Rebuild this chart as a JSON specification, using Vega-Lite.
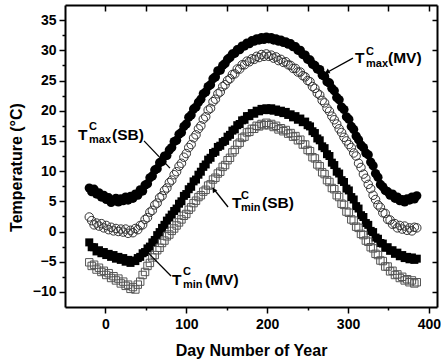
{
  "$schema": "https://vega.github.io/schema/vega-lite/v6.json",
  "width": 372,
  "height": 302,
  "autosize": "none",
  "padding": {"left": 65, "top": 5, "right": 4, "bottom": 57},
  "background": "white",
  "config": {
    "view": {"stroke": null},
    "axis": {"labelFont": "Liberation Sans", "titleFont": "Liberation Sans", "labelFontWeight": "bold", "titleFontWeight": "bold", "labelColor": "black", "titleColor": "black", "domainColor": "black", "tickColor": "black", "grid": false},
    "text": {"font": "Liberation Sans", "fontWeight": "bold"}
  },
  "datasets": {
    "tmaxMV": [{"d":-20,"t":7.2},{"d":-17,"t":6.6},{"d":-14,"t":7.0},{"d":-11,"t":6.2},{"d":-8,"t":6.4},{"d":-5,"t":5.7},{"d":-2,"t":6.0},{"d":1,"t":5.3},{"d":4,"t":5.6},{"d":7,"t":4.8},{"d":10,"t":5.1},{"d":13,"t":5.5},{"d":16,"t":4.9},{"d":19,"t":5.4},{"d":22,"t":5.1},{"d":25,"t":5.7},{"d":28,"t":5.2},{"d":31,"t":5.8},{"d":34,"t":5.5},{"d":37,"t":6.2},{"d":40,"t":6.0},{"d":43,"t":6.9},{"d":46,"t":6.7},{"d":49,"t":7.7},{"d":52,"t":7.9},{"d":55,"t":8.9},{"d":58,"t":9.2},{"d":61,"t":10.2},{"d":64,"t":10.4},{"d":67,"t":11.4},{"d":70,"t":11.6},{"d":73,"t":12.5},{"d":76,"t":12.6},{"d":79,"t":13.5},{"d":82,"t":13.9},{"d":85,"t":14.9},{"d":88,"t":15.1},{"d":91,"t":16.1},{"d":94,"t":16.4},{"d":97,"t":17.4},{"d":100,"t":17.8},{"d":103,"t":18.9},{"d":106,"t":19.3},{"d":109,"t":20.3},{"d":112,"t":20.6},{"d":115,"t":21.4},{"d":118,"t":21.9},{"d":121,"t":22.8},{"d":124,"t":23.1},{"d":127,"t":24.0},{"d":130,"t":24.3},{"d":133,"t":25.3},{"d":136,"t":25.6},{"d":139,"t":26.6},{"d":142,"t":26.7},{"d":145,"t":27.5},{"d":148,"t":27.8},{"d":151,"t":28.5},{"d":154,"t":28.8},{"d":157,"t":29.4},{"d":160,"t":29.5},{"d":163,"t":30.1},{"d":166,"t":30.1},{"d":169,"t":30.7},{"d":172,"t":30.7},{"d":175,"t":31.2},{"d":178,"t":31.1},{"d":181,"t":31.6},{"d":184,"t":31.5},{"d":187,"t":31.9},{"d":190,"t":31.7},{"d":193,"t":32.1},{"d":196,"t":31.8},{"d":199,"t":32.2},{"d":202,"t":31.9},{"d":205,"t":32.1},{"d":208,"t":31.7},{"d":211,"t":31.9},{"d":214,"t":31.5},{"d":217,"t":31.7},{"d":220,"t":31.3},{"d":223,"t":31.4},{"d":226,"t":31.0},{"d":229,"t":31.1},{"d":232,"t":30.6},{"d":235,"t":30.6},{"d":238,"t":30.0},{"d":241,"t":30.0},{"d":244,"t":29.3},{"d":247,"t":29.2},{"d":250,"t":28.5},{"d":253,"t":28.4},{"d":256,"t":27.7},{"d":259,"t":27.5},{"d":262,"t":26.9},{"d":265,"t":26.8},{"d":268,"t":25.9},{"d":271,"t":25.7},{"d":274,"t":24.8},{"d":277,"t":24.6},{"d":280,"t":23.7},{"d":283,"t":23.3},{"d":286,"t":22.2},{"d":289,"t":21.8},{"d":292,"t":20.6},{"d":295,"t":20.2},{"d":298,"t":19.0},{"d":301,"t":18.6},{"d":304,"t":17.4},{"d":307,"t":16.9},{"d":310,"t":15.8},{"d":313,"t":15.2},{"d":316,"t":14.3},{"d":319,"t":13.9},{"d":322,"t":13.0},{"d":325,"t":12.7},{"d":328,"t":11.5},{"d":331,"t":10.9},{"d":334,"t":9.6},{"d":337,"t":9.0},{"d":340,"t":7.8},{"d":343,"t":7.4},{"d":346,"t":6.8},{"d":349,"t":6.6},{"d":352,"t":6.0},{"d":355,"t":6.2},{"d":358,"t":5.5},{"d":361,"t":5.7},{"d":364,"t":5.1},{"d":367,"t":5.3},{"d":370,"t":4.9},{"d":373,"t":5.4},{"d":376,"t":5.2},{"d":379,"t":5.7},{"d":382,"t":5.4},{"d":385,"t":5.9}],
    "tmaxSB": [{"d":-20,"t":2.4},{"d":-17,"t":1.8},{"d":-14,"t":1.1},{"d":-11,"t":1.4},{"d":-8,"t":0.9},{"d":-5,"t":1.3},{"d":-2,"t":0.6},{"d":1,"t":1.0},{"d":4,"t":0.3},{"d":7,"t":0.7},{"d":10,"t":0.1},{"d":13,"t":0.5},{"d":16,"t":0.0},{"d":19,"t":0.4},{"d":22,"t":-0.1},{"d":25,"t":0.4},{"d":28,"t":-0.3},{"d":31,"t":0.2},{"d":34,"t":-0.2},{"d":37,"t":0.5},{"d":40,"t":0.3},{"d":43,"t":1.0},{"d":46,"t":1.1},{"d":49,"t":2.0},{"d":52,"t":2.3},{"d":55,"t":3.2},{"d":58,"t":3.5},{"d":61,"t":4.4},{"d":64,"t":4.7},{"d":67,"t":5.6},{"d":70,"t":5.9},{"d":73,"t":6.8},{"d":76,"t":7.2},{"d":79,"t":8.1},{"d":82,"t":8.5},{"d":85,"t":9.4},{"d":88,"t":9.9},{"d":91,"t":10.8},{"d":94,"t":11.3},{"d":97,"t":12.3},{"d":100,"t":12.9},{"d":103,"t":13.9},{"d":106,"t":14.4},{"d":109,"t":15.5},{"d":112,"t":16.0},{"d":115,"t":17.0},{"d":118,"t":17.5},{"d":121,"t":18.6},{"d":124,"t":19.0},{"d":127,"t":20.1},{"d":130,"t":20.4},{"d":133,"t":21.5},{"d":136,"t":21.9},{"d":139,"t":22.8},{"d":142,"t":23.1},{"d":145,"t":24.0},{"d":148,"t":24.3},{"d":151,"t":25.0},{"d":154,"t":25.3},{"d":157,"t":26.0},{"d":160,"t":26.1},{"d":163,"t":26.9},{"d":166,"t":26.9},{"d":169,"t":27.6},{"d":172,"t":27.6},{"d":175,"t":28.2},{"d":178,"t":28.1},{"d":181,"t":28.6},{"d":184,"t":28.5},{"d":187,"t":29.0},{"d":190,"t":28.8},{"d":193,"t":29.3},{"d":196,"t":29.0},{"d":199,"t":29.4},{"d":202,"t":29.0},{"d":205,"t":29.2},{"d":208,"t":28.7},{"d":211,"t":28.9},{"d":214,"t":28.3},{"d":217,"t":28.5},{"d":220,"t":28.0},{"d":223,"t":28.1},{"d":226,"t":27.6},{"d":229,"t":27.5},{"d":232,"t":27.0},{"d":235,"t":27.0},{"d":238,"t":26.4},{"d":241,"t":26.4},{"d":244,"t":25.8},{"d":247,"t":25.6},{"d":250,"t":25.0},{"d":253,"t":24.8},{"d":256,"t":24.0},{"d":259,"t":23.7},{"d":262,"t":22.9},{"d":265,"t":22.6},{"d":268,"t":21.7},{"d":271,"t":21.3},{"d":274,"t":20.4},{"d":277,"t":19.9},{"d":280,"t":19.1},{"d":283,"t":18.5},{"d":286,"t":17.8},{"d":289,"t":17.0},{"d":292,"t":16.4},{"d":295,"t":15.6},{"d":298,"t":15.0},{"d":301,"t":14.4},{"d":304,"t":13.9},{"d":307,"t":13.0},{"d":310,"t":12.5},{"d":313,"t":11.3},{"d":316,"t":10.6},{"d":319,"t":9.5},{"d":322,"t":8.8},{"d":325,"t":7.8},{"d":328,"t":7.1},{"d":331,"t":6.0},{"d":334,"t":5.3},{"d":337,"t":4.4},{"d":340,"t":4.0},{"d":343,"t":3.1},{"d":346,"t":3.0},{"d":349,"t":2.0},{"d":352,"t":1.9},{"d":355,"t":1.2},{"d":358,"t":1.3},{"d":361,"t":0.6},{"d":364,"t":1.0},{"d":367,"t":0.4},{"d":370,"t":0.9},{"d":373,"t":0.2},{"d":376,"t":0.6},{"d":379,"t":0.1},{"d":382,"t":0.7},{"d":385,"t":0.6}],
    "tminMV": [{"d":-20,"t":-1.8},{"d":-17,"t":-2.6},{"d":-14,"t":-2.6},{"d":-11,"t":-3.3},{"d":-8,"t":-3.1},{"d":-5,"t":-3.6},{"d":-2,"t":-3.4},{"d":1,"t":-3.9},{"d":4,"t":-3.7},{"d":7,"t":-4.2},{"d":10,"t":-3.9},{"d":13,"t":-4.5},{"d":16,"t":-4.2},{"d":19,"t":-4.7},{"d":22,"t":-4.4},{"d":25,"t":-5.0},{"d":28,"t":-4.7},{"d":31,"t":-5.2},{"d":34,"t":-4.8},{"d":37,"t":-4.9},{"d":40,"t":-4.4},{"d":43,"t":-4.2},{"d":46,"t":-3.6},{"d":49,"t":-3.4},{"d":52,"t":-2.8},{"d":55,"t":-2.5},{"d":58,"t":-1.8},{"d":61,"t":-1.4},{"d":64,"t":-0.6},{"d":67,"t":-0.1},{"d":70,"t":0.6},{"d":73,"t":1.1},{"d":76,"t":1.8},{"d":79,"t":2.3},{"d":82,"t":2.8},{"d":85,"t":3.4},{"d":88,"t":3.8},{"d":91,"t":4.6},{"d":94,"t":5.0},{"d":97,"t":5.9},{"d":100,"t":6.2},{"d":103,"t":7.0},{"d":106,"t":7.4},{"d":109,"t":8.3},{"d":112,"t":8.6},{"d":115,"t":9.4},{"d":118,"t":9.9},{"d":121,"t":10.7},{"d":124,"t":11.1},{"d":127,"t":11.9},{"d":130,"t":12.2},{"d":133,"t":13.0},{"d":136,"t":13.2},{"d":139,"t":14.0},{"d":142,"t":14.2},{"d":145,"t":14.8},{"d":148,"t":15.0},{"d":151,"t":15.7},{"d":154,"t":16.0},{"d":157,"t":16.7},{"d":160,"t":16.9},{"d":163,"t":17.6},{"d":166,"t":17.8},{"d":169,"t":18.4},{"d":172,"t":18.5},{"d":175,"t":19.1},{"d":178,"t":19.1},{"d":181,"t":19.6},{"d":184,"t":19.5},{"d":187,"t":20.0},{"d":190,"t":19.9},{"d":193,"t":20.3},{"d":196,"t":20.1},{"d":199,"t":20.4},{"d":202,"t":20.1},{"d":205,"t":20.4},{"d":208,"t":20.0},{"d":211,"t":20.2},{"d":214,"t":19.8},{"d":217,"t":20.0},{"d":220,"t":19.6},{"d":223,"t":19.8},{"d":226,"t":19.3},{"d":229,"t":19.4},{"d":232,"t":18.9},{"d":235,"t":19.1},{"d":238,"t":18.5},{"d":241,"t":18.7},{"d":244,"t":18.1},{"d":247,"t":18.2},{"d":250,"t":17.6},{"d":253,"t":17.4},{"d":256,"t":16.6},{"d":259,"t":16.3},{"d":262,"t":15.4},{"d":265,"t":15.1},{"d":268,"t":14.1},{"d":271,"t":13.8},{"d":274,"t":12.8},{"d":277,"t":12.5},{"d":280,"t":11.4},{"d":283,"t":11.0},{"d":286,"t":9.9},{"d":289,"t":9.6},{"d":292,"t":8.5},{"d":295,"t":8.2},{"d":298,"t":7.1},{"d":301,"t":6.8},{"d":304,"t":5.7},{"d":307,"t":5.3},{"d":310,"t":4.2},{"d":313,"t":3.8},{"d":316,"t":2.7},{"d":319,"t":2.4},{"d":322,"t":1.4},{"d":325,"t":1.1},{"d":328,"t":0.1},{"d":331,"t":-0.1},{"d":334,"t":-1.0},{"d":337,"t":-1.2},{"d":340,"t":-1.9},{"d":343,"t":-2.0},{"d":346,"t":-2.7},{"d":349,"t":-2.6},{"d":352,"t":-3.2},{"d":355,"t":-3.1},{"d":358,"t":-3.7},{"d":361,"t":-3.5},{"d":364,"t":-4.1},{"d":367,"t":-3.9},{"d":370,"t":-4.4},{"d":373,"t":-4.2},{"d":376,"t":-4.6},{"d":379,"t":-4.3},{"d":382,"t":-4.7},{"d":385,"t":-4.5}],
    "tminSB": [{"d":-20,"t":-5.1},{"d":-17,"t":-5.7},{"d":-14,"t":-5.5},{"d":-11,"t":-6.3},{"d":-8,"t":-6.0},{"d":-5,"t":-6.7},{"d":-2,"t":-6.5},{"d":1,"t":-7.2},{"d":4,"t":-6.9},{"d":7,"t":-7.7},{"d":10,"t":-7.4},{"d":13,"t":-8.1},{"d":16,"t":-7.8},{"d":19,"t":-8.6},{"d":22,"t":-8.3},{"d":25,"t":-9.0},{"d":28,"t":-8.8},{"d":31,"t":-9.5},{"d":34,"t":-9.2},{"d":37,"t":-9.6},{"d":40,"t":-8.8},{"d":43,"t":-8.3},{"d":46,"t":-7.2},{"d":49,"t":-6.7},{"d":52,"t":-5.7},{"d":55,"t":-5.2},{"d":58,"t":-4.3},{"d":61,"t":-3.9},{"d":64,"t":-3.1},{"d":67,"t":-2.7},{"d":70,"t":-1.9},{"d":73,"t":-1.5},{"d":76,"t":-0.8},{"d":79,"t":-0.5},{"d":82,"t":0.1},{"d":85,"t":0.5},{"d":88,"t":1.0},{"d":91,"t":1.5},{"d":94,"t":2.0},{"d":97,"t":2.6},{"d":100,"t":2.9},{"d":103,"t":3.6},{"d":106,"t":4.0},{"d":109,"t":4.7},{"d":112,"t":5.1},{"d":115,"t":5.7},{"d":118,"t":6.0},{"d":121,"t":6.6},{"d":124,"t":6.9},{"d":127,"t":7.6},{"d":130,"t":7.8},{"d":133,"t":8.6},{"d":136,"t":8.9},{"d":139,"t":9.6},{"d":142,"t":9.9},{"d":145,"t":10.7},{"d":148,"t":11.0},{"d":151,"t":11.8},{"d":154,"t":12.2},{"d":157,"t":13.1},{"d":160,"t":13.5},{"d":163,"t":14.4},{"d":166,"t":14.7},{"d":169,"t":15.5},{"d":172,"t":15.7},{"d":175,"t":16.4},{"d":178,"t":16.5},{"d":181,"t":17.0},{"d":184,"t":17.0},{"d":187,"t":17.5},{"d":190,"t":17.4},{"d":193,"t":17.8},{"d":196,"t":17.6},{"d":199,"t":18.0},{"d":202,"t":17.6},{"d":205,"t":17.8},{"d":208,"t":17.3},{"d":211,"t":17.5},{"d":214,"t":16.9},{"d":217,"t":17.1},{"d":220,"t":16.6},{"d":223,"t":16.8},{"d":226,"t":16.2},{"d":229,"t":16.3},{"d":232,"t":15.7},{"d":235,"t":15.8},{"d":238,"t":15.1},{"d":241,"t":15.2},{"d":244,"t":14.4},{"d":247,"t":14.4},{"d":250,"t":13.5},{"d":253,"t":13.3},{"d":256,"t":12.3},{"d":259,"t":12.1},{"d":262,"t":11.1},{"d":265,"t":10.8},{"d":268,"t":9.8},{"d":271,"t":9.5},{"d":274,"t":8.5},{"d":277,"t":8.2},{"d":280,"t":7.2},{"d":283,"t":7.0},{"d":286,"t":6.0},{"d":289,"t":5.7},{"d":292,"t":4.6},{"d":295,"t":4.4},{"d":298,"t":3.3},{"d":301,"t":3.1},{"d":304,"t":2.0},{"d":307,"t":1.8},{"d":310,"t":0.8},{"d":313,"t":0.6},{"d":316,"t":-0.4},{"d":319,"t":-0.6},{"d":322,"t":-1.5},{"d":325,"t":-1.7},{"d":328,"t":-2.6},{"d":331,"t":-2.8},{"d":334,"t":-3.7},{"d":337,"t":-3.9},{"d":340,"t":-4.8},{"d":343,"t":-4.9},{"d":346,"t":-5.8},{"d":349,"t":-5.8},{"d":352,"t":-6.6},{"d":355,"t":-6.5},{"d":358,"t":-7.2},{"d":361,"t":-7.1},{"d":364,"t":-7.7},{"d":367,"t":-7.5},{"d":370,"t":-8.1},{"d":373,"t":-7.9},{"d":376,"t":-8.4},{"d":379,"t":-8.1},{"d":382,"t":-8.6},{"d":385,"t":-8.4}],
    "bigText": [{"x":308.6,"y":27.9,"s":"T"},{"x":349.4,"y":27.9,"s":"(MV)"},{"x":-33.9,"y":15.15,"s":"T"},{"x":8.1,"y":15.15,"s":"(SB)"},{"x":82.3,"y":-8.86,"s":"T"},{"x":123.1,"y":-8.86,"s":"(MV)"},{"x":156.5,"y":3.9,"s":"T"},{"x":193.6,"y":3.9,"s":"(SB)"}],
    "smallText": [{"x":322.2,"y":29.2,"s":"C"},{"x":322.2,"y":27.24,"s":"max"},{"x":-20.3,"y":16.8,"s":"C"},{"x":-20.3,"y":14.65,"s":"max"},{"x":95.9,"y":-7.2,"s":"C"},{"x":95.9,"y":-9.35,"s":"min"},{"x":167.6,"y":5.4,"s":"C"},{"x":167.6,"y":3.4,"s":"min"}],
    "lines": [{"x1":306.1,"y1":28.7,"x2":272.7,"y2":26.24},{"x1":47.7,"y1":15.0,"x2":79.8,"y2":10.5},{"x1":52.6,"y1":-3.5,"x2":81.1,"y2":-7.37},{"x1":151.6,"y1":4.06,"x2":133,"y2":7.2}],
    "head1": [{"x":274,"y":26.4}],
    "head2": [{"x":134,"y":6.9}]
  },
  "layer": [
    {
      "data": {"name": "tmaxMV"},
      "mark": {"type": "point", "shape": "circle", "filled": true, "color": "black", "size": 85, "opacity": 1},
      "encoding": {
        "x": {"field": "d", "type": "quantitative", "scale": {"domain": [-50, 410], "nice": false, "zero": false},
          "axis": {"orient": "bottom", "values": [0,50,100,150,200,250,300,350,400], "labelExpr": "datum.value % 100 === 0 ? datum.label : ''", "tickSize": {"condition": {"test": "datum.value % 100 === 0", "value": 6}, "value": 3}, "tickWidth": 1.5, "domainWidth": 2, "labelFontSize": 14, "labelPadding": 4, "labelFlush": false, "labelOverlap": false, "title": "Day Number of Year", "titleFontSize": 16, "titlePadding": 11}},
        "y": {"field": "t", "type": "quantitative", "scale": {"domain": [-12.5, 37.5], "nice": false, "zero": false},
          "axis": {"orient": "left", "values": [-10,-7.5,-5,-2.5,0,2.5,5,7.5,10,12.5,15,17.5,20,22.5,25,27.5,30,32.5,35], "labelExpr": "datum.value % 5 === 0 ? datum.label : ''", "tickSize": {"condition": {"test": "datum.value % 5 === 0", "value": 6}, "value": 3}, "tickWidth": 1.5, "domainWidth": 2, "labelFontSize": 14, "labelPadding": 3, "labelFlush": false, "labelOverlap": false, "title": "Temperature (°C)", "titleFontSize": 16, "titlePadding": 8, "titleY": 162}}
      }
    },
    {
      "data": {"name": "tmaxSB"},
      "mark": {"type": "point", "shape": "circle", "filled": false, "color": "#333333", "strokeWidth": 1, "size": 72, "opacity": 1},
      "encoding": {
        "x": {"field": "d", "type": "quantitative", "scale": {"domain": [-50, 410], "nice": false, "zero": false}, "axis": null},
        "y": {"field": "t", "type": "quantitative", "scale": {"domain": [-12.5, 37.5], "nice": false, "zero": false}, "axis": null}
      }
    },
    {
      "data": {"name": "tminMV"},
      "mark": {"type": "point", "shape": "square", "filled": true, "color": "black", "size": 64, "opacity": 1},
      "encoding": {
        "x": {"field": "d", "type": "quantitative", "scale": {"domain": [-50, 410], "nice": false, "zero": false},
          "axis": {"orient": "top", "values": [0,50,100,150,200,250,300,350,400], "labels": false, "tickSize": -6, "tickWidth": 1.5, "domainWidth": 2, "title": null}},
        "y": {"field": "t", "type": "quantitative", "scale": {"domain": [-12.5, 37.5], "nice": false, "zero": false},
          "axis": {"orient": "right", "values": [-10,-5,0,5,10,15,20,25,30,35], "labels": false, "tickSize": -5, "tickWidth": 1.5, "domainWidth": 2, "title": null}}
      }
    },
    {
      "data": {"name": "tminSB"},
      "mark": {"type": "point", "shape": "square", "filled": false, "color": "#555555", "strokeWidth": 1, "size": 55, "opacity": 1},
      "encoding": {
        "x": {"field": "d", "type": "quantitative", "scale": {"domain": [-50, 410], "nice": false, "zero": false}, "axis": null},
        "y": {"field": "t", "type": "quantitative", "scale": {"domain": [-12.5, 37.5], "nice": false, "zero": false}, "axis": null}
      }
    },
    {
      "data": {"name": "lines"},
      "mark": {"type": "rule", "color": "black", "strokeWidth": 1.3},
      "encoding": {
        "x": {"field": "x1", "type": "quantitative", "scale": {"domain": [-50, 410], "nice": false, "zero": false}, "axis": null},
        "y": {"field": "y1", "type": "quantitative", "scale": {"domain": [-12.5, 37.5], "nice": false, "zero": false}, "axis": null},
        "x2": {"field": "x2"},
        "y2": {"field": "y2"}
      }
    },
    {
      "data": {"name": "head1"},
      "mark": {"type": "point", "shape": "triangle-up", "filled": true, "color": "black", "size": 30, "angle": 241, "opacity": 1},
      "encoding": {
        "x": {"field": "x", "type": "quantitative", "scale": {"domain": [-50, 410], "nice": false, "zero": false}, "axis": null},
        "y": {"field": "y", "type": "quantitative", "scale": {"domain": [-12.5, 37.5], "nice": false, "zero": false}, "axis": null}
      }
    },
    {
      "data": {"name": "head2"},
      "mark": {"type": "point", "shape": "triangle-up", "filled": true, "color": "black", "size": 30, "angle": 325, "opacity": 1},
      "encoding": {
        "x": {"field": "x", "type": "quantitative", "scale": {"domain": [-50, 410], "nice": false, "zero": false}, "axis": null},
        "y": {"field": "y", "type": "quantitative", "scale": {"domain": [-12.5, 37.5], "nice": false, "zero": false}, "axis": null}
      }
    },
    {
      "data": {"name": "bigText"},
      "mark": {"type": "text", "align": "left", "baseline": "alphabetic", "fontSize": 15.5, "fontWeight": "bold", "font": "Liberation Sans", "color": "black"},
      "encoding": {
        "x": {"field": "x", "type": "quantitative", "scale": {"domain": [-50, 410], "nice": false, "zero": false}, "axis": null},
        "y": {"field": "y", "type": "quantitative", "scale": {"domain": [-12.5, 37.5], "nice": false, "zero": false}, "axis": null},
        "text": {"field": "s"}
      }
    },
    {
      "data": {"name": "smallText"},
      "mark": {"type": "text", "align": "left", "baseline": "alphabetic", "fontSize": 11, "fontWeight": "bold", "font": "Liberation Sans", "color": "black"},
      "encoding": {
        "x": {"field": "x", "type": "quantitative", "scale": {"domain": [-50, 410], "nice": false, "zero": false}, "axis": null},
        "y": {"field": "y", "type": "quantitative", "scale": {"domain": [-12.5, 37.5], "nice": false, "zero": false}, "axis": null},
        "text": {"field": "s"}
      }
    }
  ],
  "resolve": {"axis": {"x": "independent", "y": "independent"}}
}
